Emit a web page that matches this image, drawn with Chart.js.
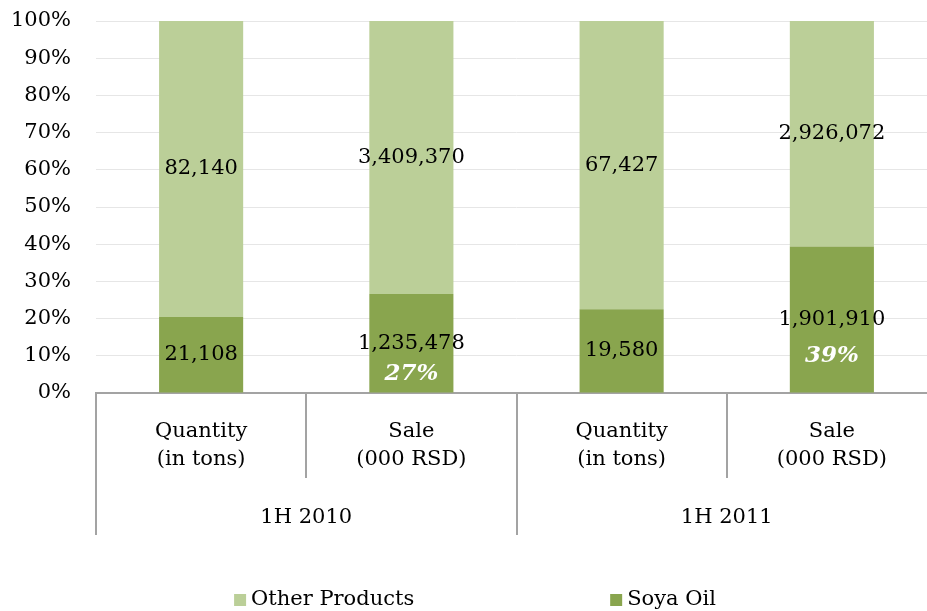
<!DOCTYPE html>
<html>
<head>
<meta charset="utf-8">
<script src="https://cdn.jsdelivr.net/npm/chart.js@4.4.0/dist/chart.umd.min.js"></script>
<style>
  html, body { margin: 0; padding: 0; overflow: hidden; background: #fff; }
  #wrap { width: 940px; height: 611px; }
</style>
</head>
<body>
<div id="wrap"><canvas id="c" width="940" height="611"></canvas></div>
<script>
// Categories (first level) and their period groups (second level)
const categories = [['Quantity', '(in tons)'], ['Sale', '(000 RSD)'], ['Quantity', '(in tons)'], ['Sale', '(000 RSD)']];
const periods = ['1H 2010', '1H 2011'];

// Raw values per category
const soyaOil = [21108, 1235478, 19580, 1901910];
const otherProducts = [82140, 3409370, 67427, 2926072];

// Categories whose Soya Oil share is called out as a percentage
const shareShown = [false, true, false, true];

const FONT = '"DejaVu Serif", serif';
const FS = 21;
const C_OTHER = '#bbcf98';
const C_SOYA = '#89a54e';
const AXIS_GREY = '#a3a3a3';

// 100% stacking: each segment as a share of the category total
const totals = soyaOil.map((v, i) => v + otherProducts[i]);
const soyaShare = soyaOil.map((v, i) => v / totals[i] * 100);
const otherShare = otherProducts.map((v, i) => v / totals[i] * 100);

const annotations = {
  id: 'annotations',
  afterDatasetsDraw(chart) {
    const ctx = chart.ctx;
    ctx.save();
    ctx.textAlign = 'center';
    ctx.textBaseline = 'middle';
    chart.data.datasets.forEach((ds, di) => {
      const meta = chart.getDatasetMeta(di);
      meta.data.forEach((bar, i) => {
        const cy = (bar.y + bar.base) / 2;
        ctx.fillStyle = '#000';
        ctx.font = FS + 'px ' + FONT;
        ctx.fillText(ds.raw[i].toLocaleString('en-US'), bar.x, cy);
        if (ds.showShare && shareShown[i]) {
          const h = bar.base - bar.y;
          ctx.fillStyle = '#fff';
          ctx.font = 'italic bold 23px ' + FONT;
          ctx.fillText(Math.round(ds.data[i]) + '%', bar.x, cy + Math.max(31, 0.25 * h));
        }
      });
    });
    ctx.restore();
  },
  afterDraw(chart) {
    const ctx = chart.ctx;
    const xs = chart.scales.x;
    const n = chart.data.labels.length;
    const w = (xs.right - xs.left) / n;
    const shortBottom = xs.top + 85;
    ctx.save();
    // category and period separators
    ctx.strokeStyle = AXIS_GREY;
    ctx.lineWidth = 2;
    for (let k = 0; k <= n; k++) {
      const x = Math.round(xs.left + k * w);
      ctx.beginPath();
      ctx.moveTo(x, xs.top);
      ctx.lineTo(x, k % 2 === 0 ? xs.bottom : shortBottom);
      ctx.stroke();
    }
    // period labels
    ctx.fillStyle = '#000';
    ctx.font = FS + 'px ' + FONT;
    ctx.textAlign = 'center';
    ctx.textBaseline = 'middle';
    periods.forEach((p, g) => {
      ctx.fillText(p, xs.left + (2 * g + 1) * w, xs.top + 125);
    });
    // legend
    const items = chart.data.datasets.slice().reverse();
    const box = 12, gap = 5, spacing = 196;
    const widths = items.map(d => box + gap + ctx.measureText(d.label).width);
    const total = widths.reduce((a, b) => a + b, 0) + spacing * (items.length - 1);
    let x = chart.width / 2 - total / 2 + 5;
    const ly = 600;
    ctx.textAlign = 'left';
    items.forEach((d, i) => {
      ctx.fillStyle = d.backgroundColor;
      ctx.fillRect(x, ly - box / 2, box, box);
      ctx.fillStyle = '#000';
      ctx.fillText(d.label, x + box + gap, ly);
      x += widths[i] + spacing;
    });
    ctx.restore();
  }
};

new Chart(document.getElementById('c'), {
  type: 'bar',
  data: {
    labels: categories,
    datasets: [
      { label: 'Soya Oil', data: soyaShare, raw: soyaOil, showShare: true, backgroundColor: C_SOYA },
      { label: 'Other Products', data: otherShare, raw: otherProducts, showShare: false, backgroundColor: C_OTHER }
    ]
  },
  options: {
    responsive: false,
    animation: false,
    devicePixelRatio: 1,
    layout: { padding: { top: 21, right: 3, bottom: 76, left: 0 } },
    datasets: { bar: { categoryPercentage: 1.0, barPercentage: 0.4 } },
    plugins: { legend: { display: false }, tooltip: { enabled: false } },
    scales: {
      x: {
        stacked: true,
        grid: { display: false, drawTicks: false },
        border: { display: true, color: AXIS_GREY, width: 2 },
        ticks: { color: '#000', padding: 24, font: { family: FONT, size: FS, lineHeight: 1.35 }, maxRotation: 0 },
        afterFit(scale) { scale.height = 142; }
      },
      y: {
        stacked: true,
        min: 0, max: 100,
        grid: { color: '#e6e6e6', lineWidth: 1, drawTicks: false },
        border: { display: false },
        ticks: { stepSize: 10, color: '#000', padding: 25, font: { family: FONT, size: FS }, callback: v => v + '%' },
        afterFit(scale) { scale.width = 96; scale.paddingTop = 0; scale.paddingBottom = 0; }
      }
    }
  },
  plugins: [annotations]
});
</script>
</body>
</html>
